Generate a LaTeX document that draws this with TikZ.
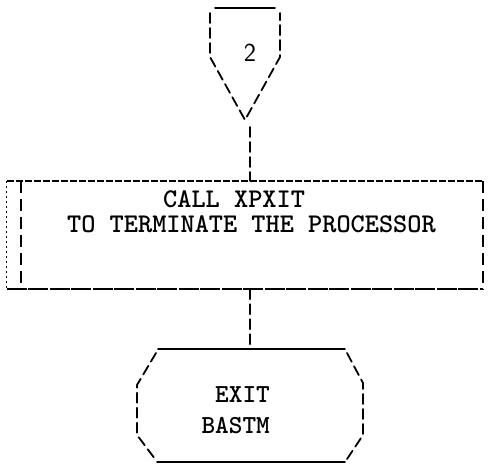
\documentclass[tikz,border=0pt]{standalone}
\usepackage{fontspec}
\begin{document}
\begin{tikzpicture}[x=1pt,y=-1pt,
  ln/.style={line width=1.8pt, line cap=round},
  dsh/.style={ln, dash pattern=on 10pt off 5pt},
  boxtop/.style={line width=1.5pt, dash pattern=on 7pt off 2pt},
  boxbot/.style={line width=1.9pt, dash pattern=on 20pt off 1.5pt},
  boxside/.style={line width=2.5pt, dash pattern=on 12pt off 6pt},
  dotline/.style={line width=1.3pt, dash pattern=on 2pt off 3pt},
  ttl/.style={font=\fontsize{27}{32}\selectfont\ttfamily\bfseries, inner sep=0pt},
  tte/.style={font=\fontsize{26}{32}\selectfont\ttfamily\bfseries, inner sep=0pt},
  sfl/.style={font=\fontsize{26}{26}\selectfont\sffamily, inner sep=0pt}]
\useasboundingbox (0,0) rectangle (490,465);

% off-page connector "2"
\node[sfl] (lab2) at (250,53) {2};
\draw[ln] (215,8) -- (275,8);
\draw[dsh] (210,13) -- (210,57) -- (245,120) -- (280,57) -- (280,13);
\coordinate (off) at (250,127);

% process box
\node[minimum width=476pt, minimum height=108pt, inner sep=0pt] (proc) at (245,235) {};
\draw[boxtop] (proc.north west) -- (proc.north east);
\draw[boxbot] (proc.south west) -- (proc.south east);
\draw[boxside] (proc.north east) -- (proc.south east);
\draw[dotline] (proc.north west) -- (proc.south west);
\draw[boxside] ([xshift=14pt]proc.north west) -- ([xshift=14pt]proc.south west);
\node[ttl, anchor=base west] (l1) at (163,208) {CALL XPXIT};
\node[ttl, anchor=base west] (l2) at (67,233) {TO TERMINATE THE PROCESSOR};

% terminal
\coordinate (term) at (250,349);
\draw[ln] (158,349) -- (345,349);
\draw[ln] (157,462) -- (345,462);
\draw[dsh] (156,353) -- (137,385) -- (137,435) -- (155,459);
\draw[dsh] (347,353) -- (363,383) -- (363,435) -- (347,459);
\node[tte, anchor=base east] (e1) at (270,402) {EXIT};
\node[tte, anchor=base east] (e2) at (270,433) {BASTM};

% connectors
\draw[dsh] (off) -- (off |- proc.north);
\draw[dsh] (off |- proc.south) -- (term);
\end{tikzpicture}
\end{document}
